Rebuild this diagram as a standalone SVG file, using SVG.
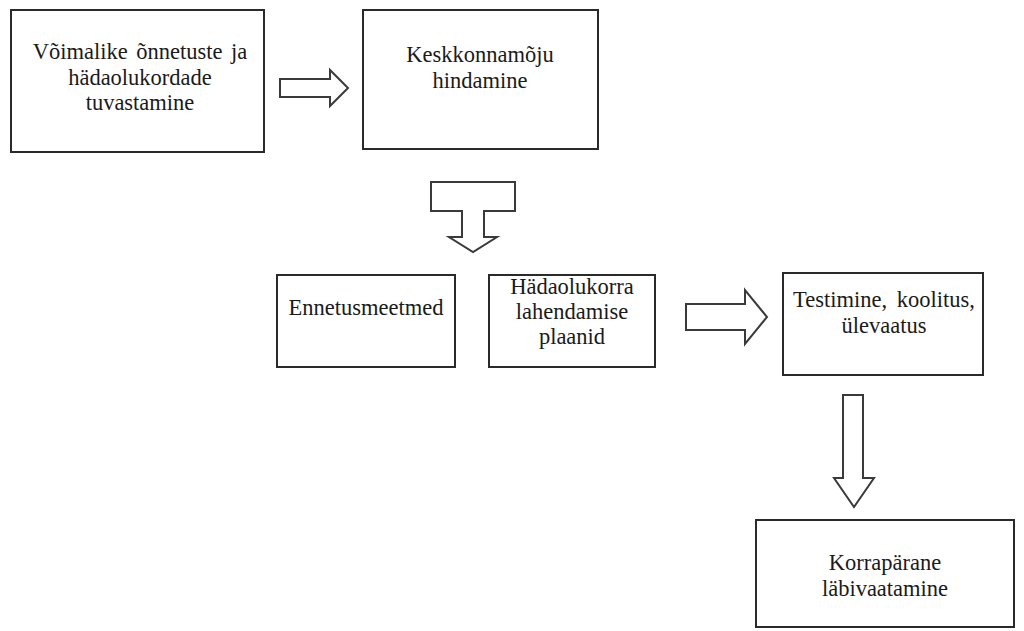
<svg xmlns="http://www.w3.org/2000/svg" width="1024" height="631" viewBox="0 0 1024 631">
<style>
.box{fill:#fff;stroke:#2a2a2a;stroke-width:2}
.arr{fill:#fff;stroke:#3a3a3a;stroke-width:2;stroke-linejoin:miter}
text{font-family:"Liberation Serif","DejaVu Serif",serif;font-size:22.5px;fill:#1a1a1a;text-anchor:middle}
</style>
<rect width="1024" height="631" fill="#fff"/>
<g id="connectors">
<path class="arr" d="M280,79 H330 V70 L348,88 L330,106 V97 H280 Z"/>
<path class="arr" d="M431,182 H515 V211 H484 V237 H497 L473,252 L449,237 H462 V211 H431 Z"/>
<path class="arr" d="M686,304 H745 V290 L767,317 L745,344 V330 H686 Z"/>
<path class="arr" d="M843,395 H863 V478 H874 L854,507 L834,478 H843 Z"/>
</g>
<g id="n1"><rect class="box" x="11" y="10" width="253" height="142"/>
<text x="140" y="59" word-spacing="3">Võimalike õnnetuste ja</text>
<text x="140" y="85">hädaolukordade</text>
<text x="140" y="110">tuvastamine</text></g>
<g id="n2"><rect class="box" x="363" y="10" width="235" height="139"/>
<text x="480" y="62">Keskkonnamõju</text>
<text x="480" y="88">hindamine</text></g>
<g id="n3"><rect class="box" x="277" y="275" width="178" height="92"/>
<text x="366" y="315">Ennetusmeetmed</text></g>
<g id="n4"><rect class="box" x="489" y="275" width="166" height="92"/>
<text x="572" y="294">Hädaolukorra</text>
<text x="572" y="319">lahendamise</text>
<text x="572" y="344">plaanid</text></g>
<g id="n5"><rect class="box" x="783" y="273" width="200" height="102"/>
<text x="884" y="307" word-spacing="4">Testimine, koolitus,</text>
<text x="884" y="333">ülevaatus</text></g>
<g id="n6"><rect class="box" x="756" y="520" width="258" height="107"/>
<text x="885" y="570">Korrapärane</text>
<text x="885" y="596">läbivaatamine</text></g>
</svg>
